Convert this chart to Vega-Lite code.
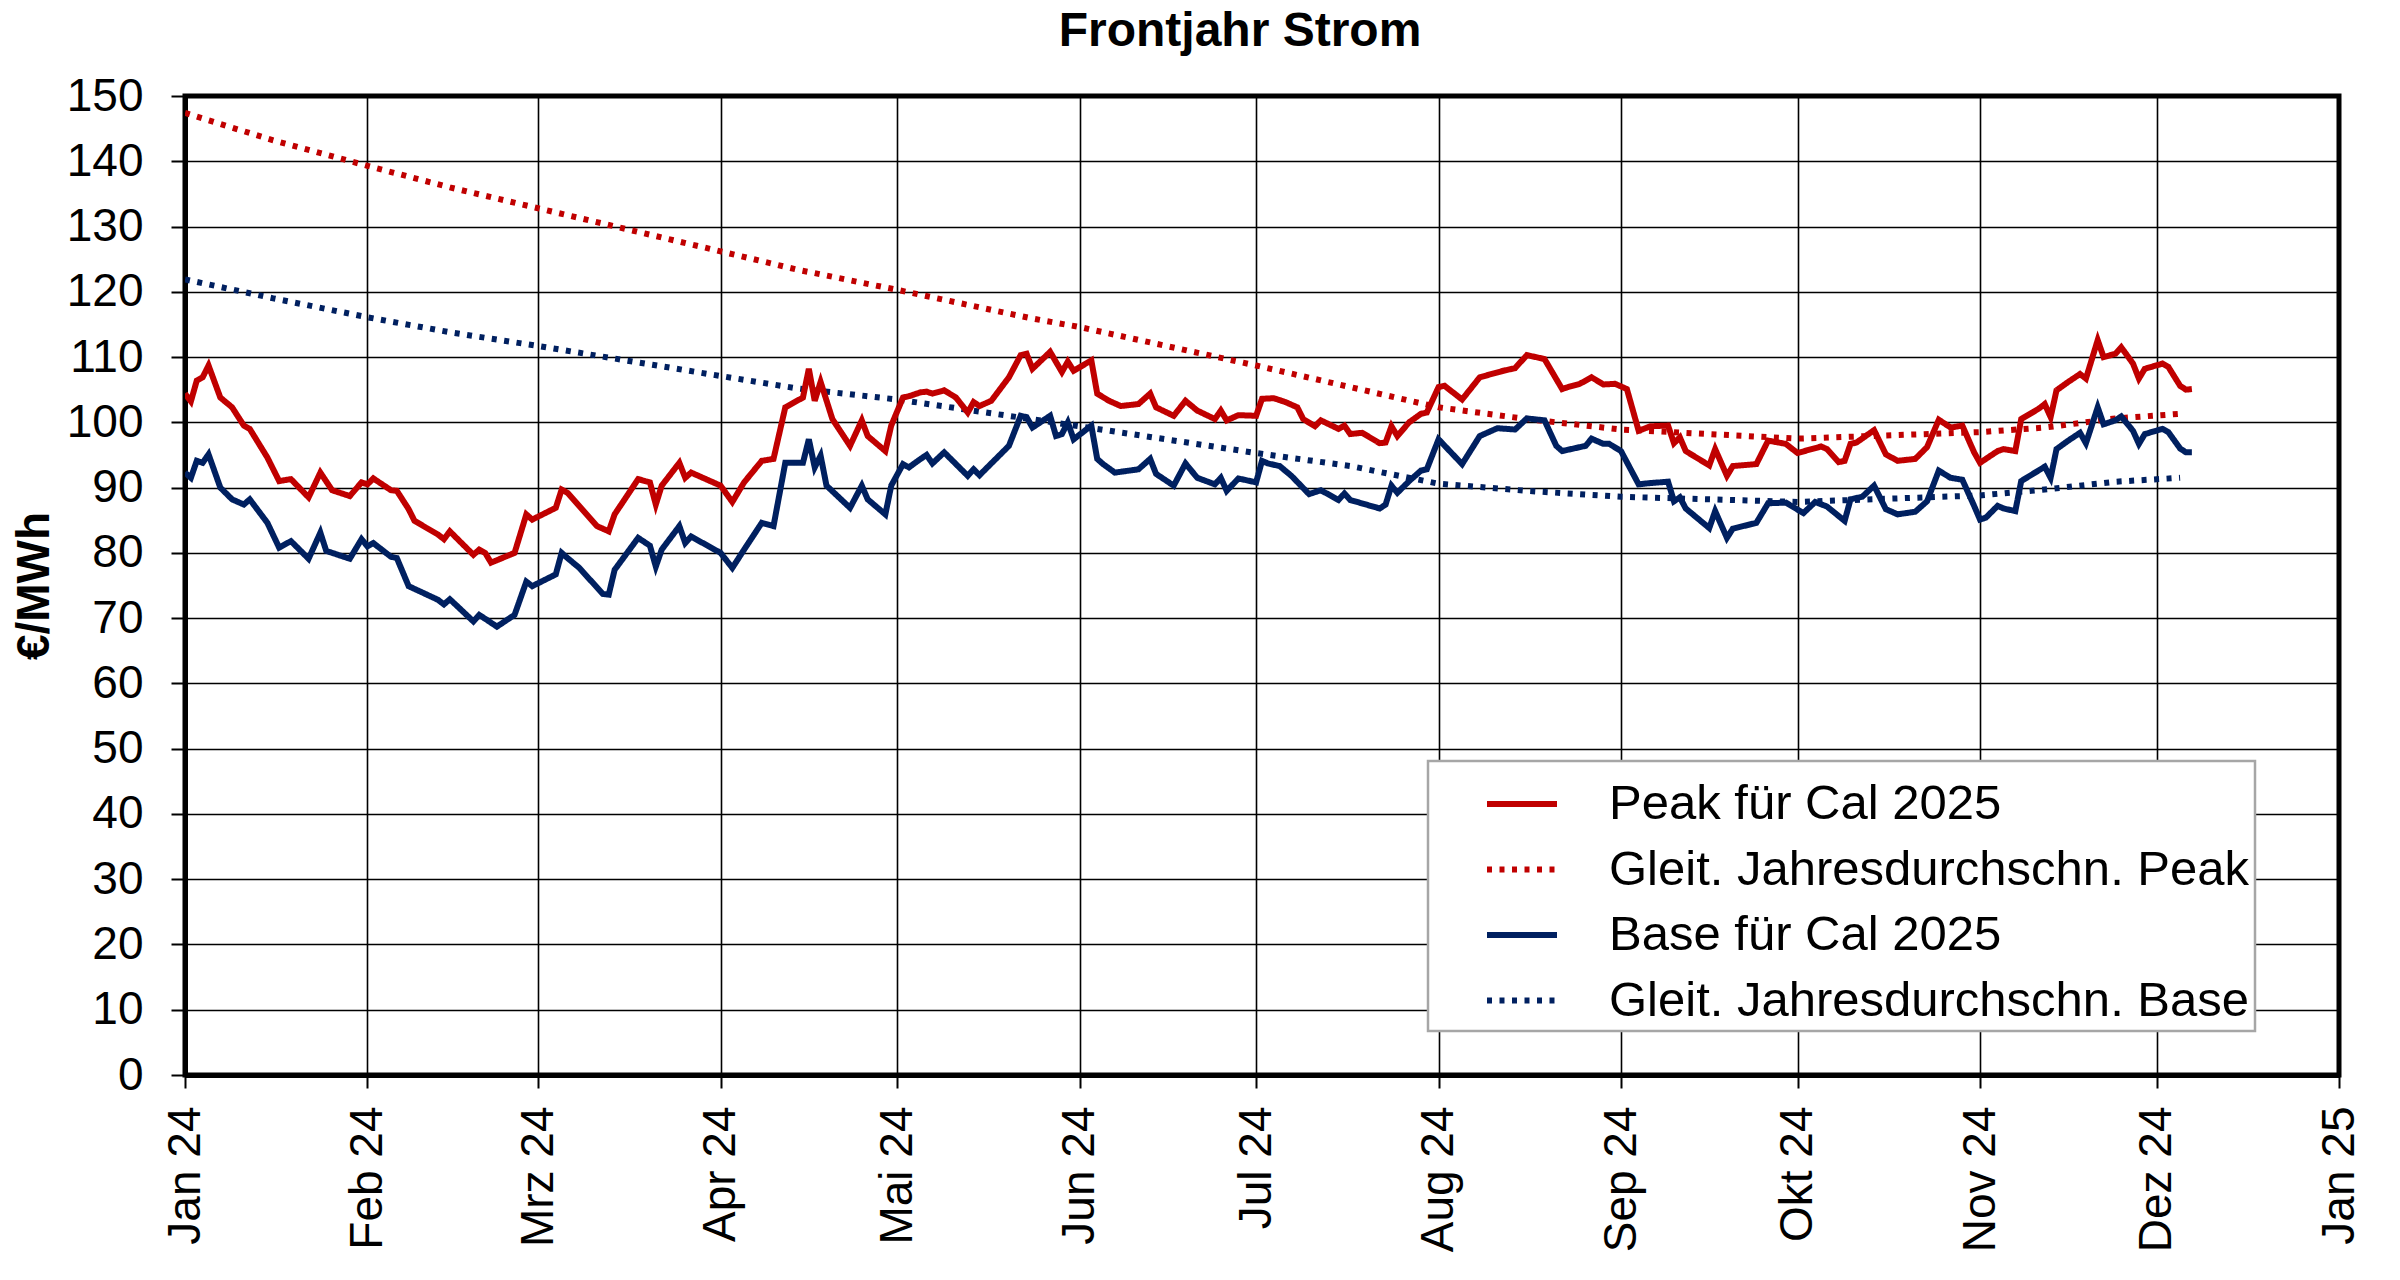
{
  "$schema": "https://vega.github.io/schema/vega-lite/v6.json",
  "description": "Frontjahr Strom 2024: Peak und Base für Cal 2025 mit gleitendem Jahresdurchschnitt",
  "width": 2154,
  "height": 979,
  "autosize": {"type": "none"},
  "padding": {"left": 185, "top": 96, "right": 61, "bottom": 205},
  "background": "#ffffff",
  "title": {
    "text": "Frontjahr Strom",
    "font": "Liberation Sans",
    "fontSize": 48,
    "fontWeight": "bold",
    "color": "#000000",
    "anchor": "middle",
    "offset": 17,
    "dx": -22
  },
  "data": {
    "values": [
      {"d": "2024-01-01", "s": "GP", "v": 147.4},
      {"d": "2024-01-16", "s": "GP", "v": 143.2},
      {"d": "2024-02-01", "s": "GP", "v": 139.3},
      {"d": "2024-02-15", "s": "GP", "v": 136.0},
      {"d": "2024-03-01", "s": "GP", "v": 132.8},
      {"d": "2024-04-01", "s": "GP", "v": 126.2},
      {"d": "2024-04-14", "s": "GP", "v": 123.4},
      {"d": "2024-05-01", "s": "GP", "v": 120.3},
      {"d": "2024-05-24", "s": "GP", "v": 115.9},
      {"d": "2024-06-01", "s": "GP", "v": 114.6},
      {"d": "2024-07-01", "s": "GP", "v": 108.7},
      {"d": "2024-07-17", "s": "GP", "v": 105.4},
      {"d": "2024-08-01", "s": "GP", "v": 102.3},
      {"d": "2024-08-16", "s": "GP", "v": 100.5},
      {"d": "2024-09-01", "s": "GP", "v": 98.9},
      {"d": "2024-10-01", "s": "GP", "v": 97.5},
      {"d": "2024-11-01", "s": "GP", "v": 98.5},
      {"d": "2024-11-12", "s": "GP", "v": 99.2},
      {"d": "2024-11-24", "s": "GP", "v": 100.6},
      {"d": "2024-12-05", "s": "GP", "v": 101.3},

      {"d": "2024-01-01", "s": "GB", "v": 121.9},
      {"d": "2024-01-16", "s": "GB", "v": 119.0},
      {"d": "2024-02-01", "s": "GB", "v": 116.1},
      {"d": "2024-02-15", "s": "GB", "v": 113.8},
      {"d": "2024-03-01", "s": "GB", "v": 111.7},
      {"d": "2024-04-01", "s": "GB", "v": 107.1},
      {"d": "2024-04-14", "s": "GB", "v": 105.2},
      {"d": "2024-05-01", "s": "GB", "v": 103.5},
      {"d": "2024-06-01", "s": "GB", "v": 99.4},
      {"d": "2024-07-01", "s": "GB", "v": 95.3},
      {"d": "2024-07-17", "s": "GB", "v": 93.3},
      {"d": "2024-08-01", "s": "GB", "v": 90.6},
      {"d": "2024-08-16", "s": "GB", "v": 89.5},
      {"d": "2024-09-01", "s": "GB", "v": 88.6},
      {"d": "2024-10-01", "s": "GB", "v": 87.8},
      {"d": "2024-11-01", "s": "GB", "v": 88.8},
      {"d": "2024-11-12", "s": "GB", "v": 89.7},
      {"d": "2024-11-24", "s": "GB", "v": 90.9},
      {"d": "2024-12-05", "s": "GB", "v": 91.5},

      {"d": "2024-01-01", "s": "P", "v": 104.4},
      {"d": "2024-01-02", "s": "P", "v": 103.2},
      {"d": "2024-01-03", "s": "P", "v": 106.4},
      {"d": "2024-01-04", "s": "P", "v": 106.9},
      {"d": "2024-01-05", "s": "P", "v": 108.7},
      {"d": "2024-01-07", "s": "P", "v": 103.8},
      {"d": "2024-01-09", "s": "P", "v": 102.3},
      {"d": "2024-01-11", "s": "P", "v": 99.5},
      {"d": "2024-01-12", "s": "P", "v": 99.0},
      {"d": "2024-01-15", "s": "P", "v": 94.6},
      {"d": "2024-01-17", "s": "P", "v": 91.0},
      {"d": "2024-01-19", "s": "P", "v": 91.3},
      {"d": "2024-01-22", "s": "P", "v": 88.5},
      {"d": "2024-01-24", "s": "P", "v": 92.3},
      {"d": "2024-01-26", "s": "P", "v": 89.6},
      {"d": "2024-01-29", "s": "P", "v": 88.7},
      {"d": "2024-01-31", "s": "P", "v": 90.8},
      {"d": "2024-02-01", "s": "P", "v": 90.5},
      {"d": "2024-02-02", "s": "P", "v": 91.4},
      {"d": "2024-02-05", "s": "P", "v": 89.6},
      {"d": "2024-02-06", "s": "P", "v": 89.5},
      {"d": "2024-02-08", "s": "P", "v": 86.7},
      {"d": "2024-02-09", "s": "P", "v": 84.9},
      {"d": "2024-02-13", "s": "P", "v": 82.8},
      {"d": "2024-02-14", "s": "P", "v": 82.1},
      {"d": "2024-02-15", "s": "P", "v": 83.3},
      {"d": "2024-02-19", "s": "P", "v": 79.7},
      {"d": "2024-02-20", "s": "P", "v": 80.5},
      {"d": "2024-02-21", "s": "P", "v": 80.0},
      {"d": "2024-02-22", "s": "P", "v": 78.5},
      {"d": "2024-02-26", "s": "P", "v": 80.0},
      {"d": "2024-02-28", "s": "P", "v": 85.9},
      {"d": "2024-02-29", "s": "P", "v": 85.1},
      {"d": "2024-03-04", "s": "P", "v": 86.9},
      {"d": "2024-03-05", "s": "P", "v": 89.7},
      {"d": "2024-03-06", "s": "P", "v": 89.2},
      {"d": "2024-03-11", "s": "P", "v": 84.1},
      {"d": "2024-03-13", "s": "P", "v": 83.3},
      {"d": "2024-03-14", "s": "P", "v": 85.9},
      {"d": "2024-03-18", "s": "P", "v": 91.3},
      {"d": "2024-03-20", "s": "P", "v": 90.8},
      {"d": "2024-03-21", "s": "P", "v": 87.4},
      {"d": "2024-03-22", "s": "P", "v": 90.3},
      {"d": "2024-03-25", "s": "P", "v": 93.8},
      {"d": "2024-03-26", "s": "P", "v": 91.5},
      {"d": "2024-03-27", "s": "P", "v": 92.3},
      {"d": "2024-04-01", "s": "P", "v": 90.3},
      {"d": "2024-04-03", "s": "P", "v": 87.8},
      {"d": "2024-04-05", "s": "P", "v": 90.8},
      {"d": "2024-04-08", "s": "P", "v": 94.1},
      {"d": "2024-04-10", "s": "P", "v": 94.4},
      {"d": "2024-04-12", "s": "P", "v": 102.3},
      {"d": "2024-04-15", "s": "P", "v": 103.8},
      {"d": "2024-04-16", "s": "P", "v": 108.2},
      {"d": "2024-04-17", "s": "P", "v": 103.3},
      {"d": "2024-04-18", "s": "P", "v": 106.2},
      {"d": "2024-04-20", "s": "P", "v": 100.5},
      {"d": "2024-04-23", "s": "P", "v": 96.4},
      {"d": "2024-04-25", "s": "P", "v": 100.3},
      {"d": "2024-04-26", "s": "P", "v": 97.9},
      {"d": "2024-04-29", "s": "P", "v": 95.6},
      {"d": "2024-04-30", "s": "P", "v": 99.5},
      {"d": "2024-05-02", "s": "P", "v": 103.8},
      {"d": "2024-05-03", "s": "P", "v": 104.0},
      {"d": "2024-05-05", "s": "P", "v": 104.6},
      {"d": "2024-05-06", "s": "P", "v": 104.7},
      {"d": "2024-05-07", "s": "P", "v": 104.4},
      {"d": "2024-05-09", "s": "P", "v": 104.9},
      {"d": "2024-05-11", "s": "P", "v": 103.8},
      {"d": "2024-05-13", "s": "P", "v": 101.5},
      {"d": "2024-05-14", "s": "P", "v": 103.1},
      {"d": "2024-05-15", "s": "P", "v": 102.5},
      {"d": "2024-05-17", "s": "P", "v": 103.3},
      {"d": "2024-05-20", "s": "P", "v": 106.9},
      {"d": "2024-05-22", "s": "P", "v": 110.3},
      {"d": "2024-05-23", "s": "P", "v": 110.5},
      {"d": "2024-05-24", "s": "P", "v": 108.2},
      {"d": "2024-05-27", "s": "P", "v": 110.8},
      {"d": "2024-05-29", "s": "P", "v": 107.7},
      {"d": "2024-05-30", "s": "P", "v": 109.3},
      {"d": "2024-05-31", "s": "P", "v": 107.9},
      {"d": "2024-06-03", "s": "P", "v": 109.5},
      {"d": "2024-06-04", "s": "P", "v": 104.4},
      {"d": "2024-06-06", "s": "P", "v": 103.3},
      {"d": "2024-06-08", "s": "P", "v": 102.5},
      {"d": "2024-06-11", "s": "P", "v": 102.8},
      {"d": "2024-06-13", "s": "P", "v": 104.4},
      {"d": "2024-06-14", "s": "P", "v": 102.3},
      {"d": "2024-06-17", "s": "P", "v": 101.0},
      {"d": "2024-06-19", "s": "P", "v": 103.3},
      {"d": "2024-06-21", "s": "P", "v": 101.8},
      {"d": "2024-06-24", "s": "P", "v": 100.5},
      {"d": "2024-06-25", "s": "P", "v": 101.8},
      {"d": "2024-06-26", "s": "P", "v": 100.3},
      {"d": "2024-06-28", "s": "P", "v": 101.1},
      {"d": "2024-07-01", "s": "P", "v": 101.0},
      {"d": "2024-07-02", "s": "P", "v": 103.6},
      {"d": "2024-07-04", "s": "P", "v": 103.7},
      {"d": "2024-07-06", "s": "P", "v": 103.1},
      {"d": "2024-07-08", "s": "P", "v": 102.3},
      {"d": "2024-07-09", "s": "P", "v": 100.5},
      {"d": "2024-07-11", "s": "P", "v": 99.4},
      {"d": "2024-07-12", "s": "P", "v": 100.3},
      {"d": "2024-07-15", "s": "P", "v": 99.0},
      {"d": "2024-07-16", "s": "P", "v": 99.5},
      {"d": "2024-07-17", "s": "P", "v": 98.2},
      {"d": "2024-07-19", "s": "P", "v": 98.4},
      {"d": "2024-07-22", "s": "P", "v": 96.8},
      {"d": "2024-07-23", "s": "P", "v": 96.9},
      {"d": "2024-07-24", "s": "P", "v": 99.4},
      {"d": "2024-07-25", "s": "P", "v": 97.9},
      {"d": "2024-07-27", "s": "P", "v": 100.0},
      {"d": "2024-07-29", "s": "P", "v": 101.3},
      {"d": "2024-07-30", "s": "P", "v": 101.5},
      {"d": "2024-08-01", "s": "P", "v": 105.4},
      {"d": "2024-08-02", "s": "P", "v": 105.6},
      {"d": "2024-08-05", "s": "P", "v": 103.5},
      {"d": "2024-08-08", "s": "P", "v": 106.9},
      {"d": "2024-08-12", "s": "P", "v": 107.9},
      {"d": "2024-08-14", "s": "P", "v": 108.3},
      {"d": "2024-08-16", "s": "P", "v": 110.3},
      {"d": "2024-08-19", "s": "P", "v": 109.7},
      {"d": "2024-08-22", "s": "P", "v": 105.1},
      {"d": "2024-08-23", "s": "P", "v": 105.4},
      {"d": "2024-08-25", "s": "P", "v": 105.9},
      {"d": "2024-08-27", "s": "P", "v": 106.9},
      {"d": "2024-08-29", "s": "P", "v": 105.8},
      {"d": "2024-08-31", "s": "P", "v": 105.9},
      {"d": "2024-09-02", "s": "P", "v": 105.1},
      {"d": "2024-09-04", "s": "P", "v": 98.7},
      {"d": "2024-09-06", "s": "P", "v": 99.4},
      {"d": "2024-09-09", "s": "P", "v": 99.5},
      {"d": "2024-09-10", "s": "P", "v": 96.8},
      {"d": "2024-09-11", "s": "P", "v": 97.7},
      {"d": "2024-09-12", "s": "P", "v": 95.6},
      {"d": "2024-09-16", "s": "P", "v": 93.4},
      {"d": "2024-09-17", "s": "P", "v": 95.9},
      {"d": "2024-09-19", "s": "P", "v": 91.8},
      {"d": "2024-09-20", "s": "P", "v": 93.3},
      {"d": "2024-09-24", "s": "P", "v": 93.6},
      {"d": "2024-09-26", "s": "P", "v": 97.2},
      {"d": "2024-09-29", "s": "P", "v": 96.7},
      {"d": "2024-10-01", "s": "P", "v": 95.3},
      {"d": "2024-10-05", "s": "P", "v": 96.3},
      {"d": "2024-10-06", "s": "P", "v": 95.9},
      {"d": "2024-10-08", "s": "P", "v": 93.9},
      {"d": "2024-10-09", "s": "P", "v": 94.1},
      {"d": "2024-10-10", "s": "P", "v": 96.7},
      {"d": "2024-10-11", "s": "P", "v": 96.9},
      {"d": "2024-10-14", "s": "P", "v": 98.8},
      {"d": "2024-10-16", "s": "P", "v": 95.1},
      {"d": "2024-10-18", "s": "P", "v": 94.1},
      {"d": "2024-10-21", "s": "P", "v": 94.4},
      {"d": "2024-10-23", "s": "P", "v": 96.2},
      {"d": "2024-10-25", "s": "P", "v": 100.4},
      {"d": "2024-10-27", "s": "P", "v": 99.2},
      {"d": "2024-10-29", "s": "P", "v": 99.5},
      {"d": "2024-10-31", "s": "P", "v": 95.4},
      {"d": "2024-11-01", "s": "P", "v": 93.8},
      {"d": "2024-11-04", "s": "P", "v": 95.6},
      {"d": "2024-11-05", "s": "P", "v": 95.9},
      {"d": "2024-11-07", "s": "P", "v": 95.6},
      {"d": "2024-11-08", "s": "P", "v": 100.5},
      {"d": "2024-11-11", "s": "P", "v": 102.1},
      {"d": "2024-11-12", "s": "P", "v": 102.8},
      {"d": "2024-11-13", "s": "P", "v": 100.8},
      {"d": "2024-11-14", "s": "P", "v": 104.9},
      {"d": "2024-11-16", "s": "P", "v": 106.2},
      {"d": "2024-11-18", "s": "P", "v": 107.4},
      {"d": "2024-11-19", "s": "P", "v": 106.7},
      {"d": "2024-11-21", "s": "P", "v": 112.6},
      {"d": "2024-11-22", "s": "P", "v": 110.0},
      {"d": "2024-11-24", "s": "P", "v": 110.5},
      {"d": "2024-11-25", "s": "P", "v": 111.5},
      {"d": "2024-11-27", "s": "P", "v": 109.0},
      {"d": "2024-11-28", "s": "P", "v": 106.7},
      {"d": "2024-11-29", "s": "P", "v": 108.2},
      {"d": "2024-12-02", "s": "P", "v": 109.0},
      {"d": "2024-12-03", "s": "P", "v": 108.5},
      {"d": "2024-12-05", "s": "P", "v": 105.6},
      {"d": "2024-12-06", "s": "P", "v": 105.0},
      {"d": "2024-12-07", "s": "P", "v": 105.1},

      {"d": "2024-01-01", "s": "B", "v": 92.3},
      {"d": "2024-01-02", "s": "B", "v": 91.5},
      {"d": "2024-01-03", "s": "B", "v": 94.1},
      {"d": "2024-01-04", "s": "B", "v": 93.8},
      {"d": "2024-01-05", "s": "B", "v": 95.1},
      {"d": "2024-01-07", "s": "B", "v": 90.0},
      {"d": "2024-01-09", "s": "B", "v": 88.2},
      {"d": "2024-01-11", "s": "B", "v": 87.4},
      {"d": "2024-01-12", "s": "B", "v": 88.2},
      {"d": "2024-01-15", "s": "B", "v": 84.6},
      {"d": "2024-01-17", "s": "B", "v": 80.8},
      {"d": "2024-01-19", "s": "B", "v": 81.8},
      {"d": "2024-01-22", "s": "B", "v": 79.1},
      {"d": "2024-01-24", "s": "B", "v": 83.1},
      {"d": "2024-01-25", "s": "B", "v": 80.3},
      {"d": "2024-01-29", "s": "B", "v": 79.1},
      {"d": "2024-01-31", "s": "B", "v": 82.1},
      {"d": "2024-02-01", "s": "B", "v": 81.0},
      {"d": "2024-02-02", "s": "B", "v": 81.5},
      {"d": "2024-02-05", "s": "B", "v": 79.4},
      {"d": "2024-02-06", "s": "B", "v": 79.2},
      {"d": "2024-02-08", "s": "B", "v": 74.9},
      {"d": "2024-02-13", "s": "B", "v": 72.8},
      {"d": "2024-02-14", "s": "B", "v": 72.1},
      {"d": "2024-02-15", "s": "B", "v": 72.9},
      {"d": "2024-02-19", "s": "B", "v": 69.5},
      {"d": "2024-02-20", "s": "B", "v": 70.5},
      {"d": "2024-02-23", "s": "B", "v": 68.7},
      {"d": "2024-02-26", "s": "B", "v": 70.5},
      {"d": "2024-02-28", "s": "B", "v": 75.6},
      {"d": "2024-02-29", "s": "B", "v": 74.9},
      {"d": "2024-03-04", "s": "B", "v": 76.7},
      {"d": "2024-03-05", "s": "B", "v": 80.0},
      {"d": "2024-03-06", "s": "B", "v": 79.2},
      {"d": "2024-03-08", "s": "B", "v": 77.7},
      {"d": "2024-03-12", "s": "B", "v": 73.7},
      {"d": "2024-03-13", "s": "B", "v": 73.6},
      {"d": "2024-03-14", "s": "B", "v": 77.4},
      {"d": "2024-03-18", "s": "B", "v": 82.3},
      {"d": "2024-03-20", "s": "B", "v": 81.1},
      {"d": "2024-03-21", "s": "B", "v": 77.9},
      {"d": "2024-03-22", "s": "B", "v": 80.5},
      {"d": "2024-03-25", "s": "B", "v": 84.1},
      {"d": "2024-03-26", "s": "B", "v": 81.5},
      {"d": "2024-03-27", "s": "B", "v": 82.5},
      {"d": "2024-04-01", "s": "B", "v": 80.0},
      {"d": "2024-04-03", "s": "B", "v": 77.7},
      {"d": "2024-04-05", "s": "B", "v": 80.5},
      {"d": "2024-04-08", "s": "B", "v": 84.6},
      {"d": "2024-04-10", "s": "B", "v": 84.1},
      {"d": "2024-04-12", "s": "B", "v": 93.8},
      {"d": "2024-04-15", "s": "B", "v": 93.8},
      {"d": "2024-04-16", "s": "B", "v": 97.4},
      {"d": "2024-04-17", "s": "B", "v": 93.1},
      {"d": "2024-04-18", "s": "B", "v": 94.9},
      {"d": "2024-04-19", "s": "B", "v": 90.3},
      {"d": "2024-04-23", "s": "B", "v": 86.9},
      {"d": "2024-04-25", "s": "B", "v": 90.3},
      {"d": "2024-04-26", "s": "B", "v": 88.2},
      {"d": "2024-04-29", "s": "B", "v": 85.9},
      {"d": "2024-04-30", "s": "B", "v": 90.3},
      {"d": "2024-05-02", "s": "B", "v": 93.6},
      {"d": "2024-05-03", "s": "B", "v": 93.1},
      {"d": "2024-05-05", "s": "B", "v": 94.4},
      {"d": "2024-05-06", "s": "B", "v": 95.0},
      {"d": "2024-05-07", "s": "B", "v": 93.7},
      {"d": "2024-05-09", "s": "B", "v": 95.4},
      {"d": "2024-05-13", "s": "B", "v": 91.8},
      {"d": "2024-05-14", "s": "B", "v": 92.8},
      {"d": "2024-05-15", "s": "B", "v": 91.9},
      {"d": "2024-05-20", "s": "B", "v": 96.4},
      {"d": "2024-05-22", "s": "B", "v": 101.0},
      {"d": "2024-05-23", "s": "B", "v": 100.8},
      {"d": "2024-05-24", "s": "B", "v": 99.2},
      {"d": "2024-05-27", "s": "B", "v": 101.0},
      {"d": "2024-05-28", "s": "B", "v": 97.9},
      {"d": "2024-05-29", "s": "B", "v": 98.2},
      {"d": "2024-05-30", "s": "B", "v": 100.0},
      {"d": "2024-05-31", "s": "B", "v": 97.4},
      {"d": "2024-06-03", "s": "B", "v": 99.5},
      {"d": "2024-06-04", "s": "B", "v": 94.4},
      {"d": "2024-06-05", "s": "B", "v": 93.6},
      {"d": "2024-06-07", "s": "B", "v": 92.3},
      {"d": "2024-06-11", "s": "B", "v": 92.8},
      {"d": "2024-06-13", "s": "B", "v": 94.4},
      {"d": "2024-06-14", "s": "B", "v": 92.1},
      {"d": "2024-06-17", "s": "B", "v": 90.3},
      {"d": "2024-06-19", "s": "B", "v": 93.7},
      {"d": "2024-06-21", "s": "B", "v": 91.5},
      {"d": "2024-06-24", "s": "B", "v": 90.5},
      {"d": "2024-06-25", "s": "B", "v": 91.5},
      {"d": "2024-06-26", "s": "B", "v": 89.5},
      {"d": "2024-06-28", "s": "B", "v": 91.4},
      {"d": "2024-07-01", "s": "B", "v": 90.8},
      {"d": "2024-07-02", "s": "B", "v": 94.1},
      {"d": "2024-07-03", "s": "B", "v": 93.7},
      {"d": "2024-07-05", "s": "B", "v": 93.3},
      {"d": "2024-07-07", "s": "B", "v": 91.8},
      {"d": "2024-07-10", "s": "B", "v": 89.0},
      {"d": "2024-07-12", "s": "B", "v": 89.6},
      {"d": "2024-07-15", "s": "B", "v": 88.1},
      {"d": "2024-07-16", "s": "B", "v": 89.1},
      {"d": "2024-07-17", "s": "B", "v": 88.1},
      {"d": "2024-07-22", "s": "B", "v": 86.8},
      {"d": "2024-07-23", "s": "B", "v": 87.4},
      {"d": "2024-07-24", "s": "B", "v": 90.3},
      {"d": "2024-07-25", "s": "B", "v": 89.2},
      {"d": "2024-07-27", "s": "B", "v": 91.0},
      {"d": "2024-07-29", "s": "B", "v": 92.6},
      {"d": "2024-07-30", "s": "B", "v": 92.8},
      {"d": "2024-08-01", "s": "B", "v": 97.4},
      {"d": "2024-08-05", "s": "B", "v": 93.6},
      {"d": "2024-08-08", "s": "B", "v": 97.9},
      {"d": "2024-08-11", "s": "B", "v": 99.1},
      {"d": "2024-08-14", "s": "B", "v": 98.9},
      {"d": "2024-08-16", "s": "B", "v": 100.6},
      {"d": "2024-08-19", "s": "B", "v": 100.3},
      {"d": "2024-08-21", "s": "B", "v": 96.4},
      {"d": "2024-08-22", "s": "B", "v": 95.6},
      {"d": "2024-08-26", "s": "B", "v": 96.4},
      {"d": "2024-08-27", "s": "B", "v": 97.5},
      {"d": "2024-08-29", "s": "B", "v": 96.7},
      {"d": "2024-08-30", "s": "B", "v": 96.7},
      {"d": "2024-09-01", "s": "B", "v": 95.6},
      {"d": "2024-09-04", "s": "B", "v": 90.5},
      {"d": "2024-09-06", "s": "B", "v": 90.7},
      {"d": "2024-09-09", "s": "B", "v": 90.9},
      {"d": "2024-09-10", "s": "B", "v": 87.9},
      {"d": "2024-09-11", "s": "B", "v": 88.5},
      {"d": "2024-09-12", "s": "B", "v": 86.8},
      {"d": "2024-09-16", "s": "B", "v": 83.8},
      {"d": "2024-09-17", "s": "B", "v": 86.4},
      {"d": "2024-09-19", "s": "B", "v": 82.3},
      {"d": "2024-09-20", "s": "B", "v": 83.7},
      {"d": "2024-09-24", "s": "B", "v": 84.6},
      {"d": "2024-09-26", "s": "B", "v": 87.6},
      {"d": "2024-09-29", "s": "B", "v": 87.7},
      {"d": "2024-10-02", "s": "B", "v": 86.1},
      {"d": "2024-10-04", "s": "B", "v": 87.8},
      {"d": "2024-10-06", "s": "B", "v": 87.1},
      {"d": "2024-10-09", "s": "B", "v": 84.9},
      {"d": "2024-10-10", "s": "B", "v": 88.2},
      {"d": "2024-10-12", "s": "B", "v": 88.6},
      {"d": "2024-10-14", "s": "B", "v": 90.3},
      {"d": "2024-10-16", "s": "B", "v": 86.7},
      {"d": "2024-10-18", "s": "B", "v": 85.9},
      {"d": "2024-10-21", "s": "B", "v": 86.3},
      {"d": "2024-10-23", "s": "B", "v": 87.9},
      {"d": "2024-10-25", "s": "B", "v": 92.6},
      {"d": "2024-10-27", "s": "B", "v": 91.5},
      {"d": "2024-10-29", "s": "B", "v": 91.2},
      {"d": "2024-10-31", "s": "B", "v": 87.2},
      {"d": "2024-11-01", "s": "B", "v": 85.1},
      {"d": "2024-11-02", "s": "B", "v": 85.4},
      {"d": "2024-11-04", "s": "B", "v": 87.2},
      {"d": "2024-11-05", "s": "B", "v": 86.8},
      {"d": "2024-11-07", "s": "B", "v": 86.4},
      {"d": "2024-11-08", "s": "B", "v": 91.0},
      {"d": "2024-11-12", "s": "B", "v": 93.2},
      {"d": "2024-11-13", "s": "B", "v": 91.5},
      {"d": "2024-11-14", "s": "B", "v": 95.9},
      {"d": "2024-11-16", "s": "B", "v": 97.2},
      {"d": "2024-11-18", "s": "B", "v": 98.4},
      {"d": "2024-11-19", "s": "B", "v": 96.8},
      {"d": "2024-11-21", "s": "B", "v": 102.3},
      {"d": "2024-11-22", "s": "B", "v": 99.7},
      {"d": "2024-11-24", "s": "B", "v": 100.3},
      {"d": "2024-11-25", "s": "B", "v": 100.9},
      {"d": "2024-11-27", "s": "B", "v": 98.7},
      {"d": "2024-11-28", "s": "B", "v": 96.7},
      {"d": "2024-11-29", "s": "B", "v": 98.2},
      {"d": "2024-12-02", "s": "B", "v": 99.0},
      {"d": "2024-12-03", "s": "B", "v": 98.5},
      {"d": "2024-12-05", "s": "B", "v": 96.0},
      {"d": "2024-12-06", "s": "B", "v": 95.4},
      {"d": "2024-12-07", "s": "B", "v": 95.4}
    ]
  },
  "mark": {"type": "line", "strokeWidth": 6, "clip": true},
  "encoding": {
    "x": {
      "field": "d",
      "type": "temporal",
      "scale": {
        "type": "utc",
        "domain": [
          {"year": 2024, "month": 1, "date": 1, "utc": true},
          {"year": 2025, "month": 1, "date": 1, "utc": true}
        ]
      },
      "axis": {
        "title": null,
        "tickCount": {"interval": "month", "step": 1},
        "labelExpr": "['Jan','Feb','Mrz','Apr','Mai','Jun','Jul','Aug','Sep','Okt','Nov','Dez'][utcmonth(datum.value)] + ' ' + utcFormat(datum.value, '%y')",
        "labelAngle": 270,
        "labelPadding": 18,
        "tickSize": 13
      }
    },
    "y": {
      "field": "v",
      "type": "quantitative",
      "scale": {"domain": [0, 150], "nice": false},
      "axis": {
        "title": "€/MWh",
        "values": [0, 10, 20, 30, 40, 50, 60, 70, 80, 90, 100, 110, 120, 130, 140, 150],
        "labelPadding": 28,
        "tickSize": 14,
        "titlePadding": 8
      }
    },
    "color": {
      "field": "s",
      "type": "nominal",
      "scale": {
        "domain": ["P", "GP", "B", "GB"],
        "range": ["#c00000", "#c00000", "#002060", "#002060"]
      },
      "legend": {
        "orient": "none",
        "legendX": 1243,
        "legendY": 665,
        "title": null,
        "labelExpr": "datum.value == 'P' ? 'Peak für Cal 2025' : datum.value == 'GP' ? 'Gleit. Jahresdurchschn. Peak' : datum.value == 'B' ? 'Base für Cal 2025' : 'Gleit. Jahresdurchschn. Base'"
      }
    },
    "strokeDash": {
      "field": "s",
      "type": "nominal",
      "scale": {
        "domain": ["P", "GP", "B", "GB"],
        "range": [[1, 0], [5, 7.5], [1, 0], [5, 7.5]]
      },
      "legend": {
        "orient": "none",
        "legendX": 1243,
        "legendY": 665,
        "title": null,
        "labelExpr": "datum.value == 'P' ? 'Peak für Cal 2025' : datum.value == 'GP' ? 'Gleit. Jahresdurchschn. Peak' : datum.value == 'B' ? 'Base für Cal 2025' : 'Gleit. Jahresdurchschn. Base'"
      }
    }
  },
  "config": {
    "view": {"stroke": "#000000", "strokeWidth": 5},
    "axis": {
      "labelFont": "Liberation Sans",
      "labelFontSize": 46,
      "labelColor": "#000000",
      "labelFlush": false,
      "labelOverlap": false,
      "titleFont": "Liberation Sans",
      "titleFontSize": 46,
      "titleFontWeight": "bold",
      "titleColor": "#000000",
      "domainColor": "#000000",
      "domainWidth": 5,
      "tickColor": "#000000",
      "tickWidth": 2,
      "grid": true,
      "gridColor": "#000000",
      "gridWidth": 1.6,
      "gridOpacity": 1
    },
    "legend": {
      "fillColor": "#ffffff",
      "strokeColor": "#a6a6a6",
      "strokeWidth": 2.5,
      "padding": 5,
      "symbolType": "stroke",
      "symbolSize": 4900,
      "symbolStrokeWidth": 6,
      "symbolOffset": 51,
      "labelOffset": 49,
      "labelFont": "Liberation Sans",
      "labelFontSize": 49,
      "labelColor": "#000000",
      "labelLimit": 1200,
      "rowPadding": 2.5
    }
  }
}
